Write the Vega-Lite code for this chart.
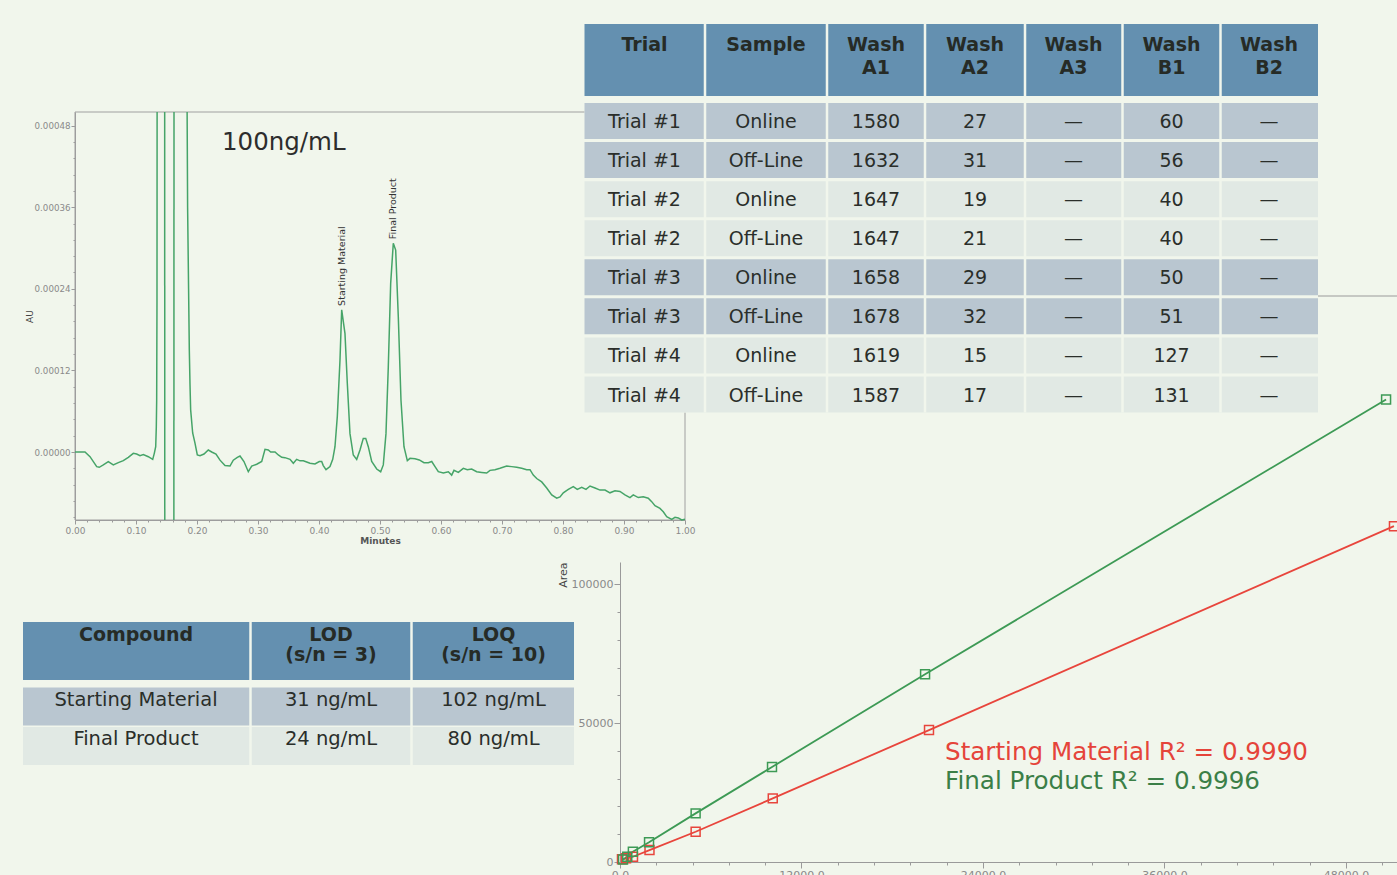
{
  "$schema": "https://vega.github.io/schema/vega-lite/v6.json",
  "width": 1397,
  "height": 875,
  "autosize": "none",
  "padding": 0,
  "background": "#f1f6ec",
  "config": {
    "view": {"stroke": null},
    "font": "DejaVu Sans",
    "axis": {"grid": false, "labelOverlap": false, "labelFlush": false, "labelBound": false, "domainColor": "#9a9a9a", "tickColor": "#9a9a9a", "labelColor": "#8a8a8a", "labelFont": "DejaVu Sans", "titleFont": "DejaVu Sans"}
  },
  "datasets": {
    "trace": [
      {"s":"a","t":0,"au":0},{"s":"a","t":0.0164,"au":0},{"s":"a","t":0.0246,"au":-0.0000069},{"s":"a","t":0.0356,"au":-0.0000215},{"s":"a","t":0.0398,"au":-0.0000225},{"s":"a","t":0.0464,"au":-0.000019},{"s":"a","t":0.0546,"au":-0.0000142},{"s":"a","t":0.0628,"au":-0.000019},{"s":"a","t":0.071,"au":-0.0000157},{"s":"a","t":0.0792,"au":-0.0000127},{"s":"a","t":0.0874,"au":-0.0000078},{"s":"a","t":0.0956,"au":-0.000002},{"s":"a","t":0.1011,"au":-0.0000029},{"s":"a","t":0.1066,"au":-0.0000054},{"s":"a","t":0.112,"au":-0.0000039},{"s":"a","t":0.1202,"au":-0.0000069},{"s":"a","t":0.1274,"au":-0.0000108},{"s":"a","t":0.13,"au":-0.000002},{"s":"a","t":0.1323,"au":0.0000078},{"s":"a","t":0.1333,"au":0.000037},{"s":"a","t":0.1339,"au":0.000076},{"s":"a","t":0.1344,"au":0.00022},{"s":"a","t":0.1346,"au":0.0005},
      {"s":"b","t":0.147,"au":0.0005},{"s":"b","t":0.1472,"au":-0.0001},
      {"s":"c","t":0.1621,"au":-0.0001},{"s":"c","t":0.1623,"au":0.0005},
      {"s":"d","t":0.1838,"au":0.0005},{"s":"d","t":0.1846,"au":0.00036},{"s":"d","t":0.1862,"au":0.00024},{"s":"d","t":0.1874,"au":0.00015},{"s":"d","t":0.1885,"au":0.0001},{"s":"d","t":0.1896,"au":0.000062},{"s":"d","t":0.1929,"au":0.000028},{"s":"d","t":0.1967,"au":0.000013},{"s":"d","t":0.2005,"au":-0.0000044},{"s":"d","t":0.2049,"au":-0.0000054},{"s":"d","t":0.2115,"au":-0.000003},{"s":"d","t":0.2185,"au":0.0000029},{"s":"d","t":0.2241,"au":0},{"s":"d","t":0.2311,"au":-0.000003},{"s":"d","t":0.2377,"au":-0.000012},{"s":"d","t":0.2459,"au":-0.00002},{"s":"d","t":0.2541,"au":-0.0000206},{"s":"d","t":0.2595,"au":-0.000012},{"s":"d","t":0.2661,"au":-0.0000078},{"s":"d","t":0.2705,"au":-0.0000059},{"s":"d","t":0.277,"au":-0.000014},{"s":"d","t":0.2841,"au":-0.000029},{"s":"d","t":0.2897,"au":-0.0000206},{"s":"d","t":0.2979,"au":-0.000018},{"s":"d","t":0.3061,"au":-0.000014},{"s":"d","t":0.3115,"au":0.0000039},{"s":"d","t":0.3169,"au":0.0000029},{"s":"d","t":0.3208,"au":0},{"s":"d","t":0.3279,"au":0},{"s":"d","t":0.3333,"au":-0.0000044},{"s":"d","t":0.3389,"au":-0.0000078},{"s":"d","t":0.3443,"au":-0.0000083},{"s":"d","t":0.3525,"au":-0.0000108},{"s":"d","t":0.3579,"au":-0.0000166},{"s":"d","t":0.3634,"au":-0.0000108},{"s":"d","t":0.3689,"au":-0.000013},{"s":"d","t":0.3743,"au":-0.000013},{"s":"d","t":0.3798,"au":-0.0000147},{"s":"d","t":0.3852,"au":-0.0000166},{"s":"d","t":0.3934,"au":-0.0000176},{"s":"d","t":0.4005,"au":-0.000014},{"s":"d","t":0.4044,"au":-0.000014},{"s":"d","t":0.407,"au":-0.00002},{"s":"d","t":0.4115,"au":-0.000026},{"s":"d","t":0.418,"au":-0.0000215},{"s":"d","t":0.4225,"au":-0.0000108},{"s":"d","t":0.4262,"au":0.0000078},{"s":"d","t":0.43,"au":0.000052},{"s":"d","t":0.4344,"au":0.000135},{"s":"d","t":0.4372,"au":0.000209},{"s":"d","t":0.4426,"au":0.000174},{"s":"d","t":0.4464,"au":0.000101},{"s":"d","t":0.4508,"au":0.000027},{"s":"d","t":0.4562,"au":-0.0000044},{"s":"d","t":0.4618,"au":-0.0000108},{"s":"d","t":0.4672,"au":0.0000029},{"s":"d","t":0.4726,"au":0.00002},{"s":"d","t":0.4766,"au":0.00002},{"s":"d","t":0.4808,"au":0.0000078},{"s":"d","t":0.4864,"au":-0.000014},{"s":"d","t":0.4946,"au":-0.000025},{"s":"d","t":0.5011,"au":-0.000029},{"s":"d","t":0.5054,"au":-0.000019},{"s":"d","t":0.5098,"au":0.000027},{"s":"d","t":0.5136,"au":0.000125},{"s":"d","t":0.5175,"au":0.000248},{"s":"d","t":0.5218,"au":0.000307},{"s":"d","t":0.5257,"au":0.000297},{"s":"d","t":0.53,"au":0.000199},{"s":"d","t":0.5344,"au":0.000076},{"s":"d","t":0.5393,"au":0.0000078},{"s":"d","t":0.5448,"au":-0.0000127},{"s":"d","t":0.5492,"au":-0.0000093},{"s":"d","t":0.5574,"au":-0.00001},{"s":"d","t":0.5644,"au":-0.0000117},{"s":"d","t":0.5721,"au":-0.0000157},{"s":"d","t":0.5792,"au":-0.0000157},{"s":"d","t":0.5848,"au":-0.000014},{"s":"d","t":0.5902,"au":-0.0000215},{"s":"d","t":0.5956,"au":-0.000029},{"s":"d","t":0.6038,"au":-0.000031},{"s":"d","t":0.612,"au":-0.000029},{"s":"d","t":0.6175,"au":-0.000034},{"s":"d","t":0.6213,"au":-0.000027},{"s":"d","t":0.6284,"au":-0.00003},{"s":"d","t":0.6366,"au":-0.000024},{"s":"d","t":0.6431,"au":-0.000026},{"s":"d","t":0.6503,"au":-0.000025},{"s":"d","t":0.6585,"au":-0.000029},{"s":"d","t":0.6667,"au":-0.00003},{"s":"d","t":0.6749,"au":-0.000031},{"s":"d","t":0.6803,"au":-0.000027},{"s":"d","t":0.6885,"au":-0.000026},{"s":"d","t":0.6967,"au":-0.000024},{"s":"d","t":0.7077,"au":-0.0000206},{"s":"d","t":0.7159,"au":-0.0000215},{"s":"d","t":0.7241,"au":-0.0000225},{"s":"d","t":0.7323,"au":-0.000024},{"s":"d","t":0.7405,"au":-0.000026},{"s":"d","t":0.7459,"au":-0.000026},{"s":"d","t":0.7513,"au":-0.000034},{"s":"d","t":0.7569,"au":-0.000039},{"s":"d","t":0.7651,"au":-0.000044},{"s":"d","t":0.7733,"au":-0.000053},{"s":"d","t":0.7815,"au":-0.000063},{"s":"d","t":0.7897,"au":-0.000068},{"s":"d","t":0.7951,"au":-0.000066},{"s":"d","t":0.8005,"au":-0.00006},{"s":"d","t":0.8087,"au":-0.000055},{"s":"d","t":0.8169,"au":-0.000051},{"s":"d","t":0.8234,"au":-0.000055},{"s":"d","t":0.8307,"au":-0.000052},{"s":"d","t":0.8377,"au":-0.000055},{"s":"d","t":0.8443,"au":-0.00005},{"s":"d","t":0.8525,"au":-0.000053},{"s":"d","t":0.8607,"au":-0.000056},{"s":"d","t":0.8689,"au":-0.000056},{"s":"d","t":0.877,"au":-0.00006},{"s":"d","t":0.8852,"au":-0.000057},{"s":"d","t":0.8934,"au":-0.000058},{"s":"d","t":0.9016,"au":-0.000063},{"s":"d","t":0.9098,"au":-0.000067},{"s":"d","t":0.9152,"au":-0.000063},{"s":"d","t":0.9234,"au":-0.000067},{"s":"d","t":0.9316,"au":-0.000066},{"s":"d","t":0.9398,"au":-0.000068},{"s":"d","t":0.9454,"au":-0.000073},{"s":"d","t":0.9508,"au":-0.000079},{"s":"d","t":0.959,"au":-0.000083},{"s":"d","t":0.9644,"au":-0.000088},{"s":"d","t":0.97,"au":-0.000095},{"s":"d","t":0.9782,"au":-0.000099},{"s":"d","t":0.9836,"au":-0.000096},{"s":"d","t":0.989,"au":-0.000097},{"s":"d","t":0.9946,"au":-0.0001},{"s":"d","t":1,"au":-0.000099}
    ],
    "peaks": [
      {"peak":"Starting Material","t":0.4372,"au":0.000209},
      {"peak":"Final Product","t":0.5218,"au":0.000307}
    ],
    "calib": [
      {"compound":"Starting Material","conc":130,"area":970},
      {"compound":"Starting Material","conc":400,"area":1330},
      {"compound":"Starting Material","conc":860,"area":1900},
      {"compound":"Starting Material","conc":1950,"area":4300},
      {"compound":"Starting Material","conc":5000,"area":10900},
      {"compound":"Starting Material","conc":10100,"area":22900},
      {"compound":"Starting Material","conc":20430,"area":47500},
      {"compound":"Starting Material","conc":51170,"area":120900},
      {"compound":"Final Product","conc":200,"area":900},
      {"compound":"Final Product","conc":480,"area":1900},
      {"compound":"Final Product","conc":850,"area":3700},
      {"compound":"Final Product","conc":1920,"area":7100},
      {"compound":"Final Product","conc":5000,"area":17500},
      {"compound":"Final Product","conc":10050,"area":34200},
      {"compound":"Final Product","conc":20170,"area":67600},
      {"compound":"Final Product","conc":50650,"area":166500}
    ],
    "bigRows": [
      {"r":0,"kind":"header"},{"r":1,"kind":"dark"},{"r":2,"kind":"dark"},{"r":3,"kind":"light"},{"r":4,"kind":"light"},{"r":5,"kind":"dark"},{"r":6,"kind":"dark"},{"r":7,"kind":"light"},{"r":8,"kind":"light"}
    ],
    "bigGaps": [{"b":0.5},{"b":1.5},{"b":2.5},{"b":3.5},{"b":4.5},{"b":5.5}],
    "bigCells": [
      {"r":0,"c":0,"t":"Trial"},{"r":0,"c":1,"t":"Sample"},{"r":0,"c":2,"t":"Wash\nA1"},{"r":0,"c":3,"t":"Wash\nA2"},{"r":0,"c":4,"t":"Wash\nA3"},{"r":0,"c":5,"t":"Wash\nB1"},{"r":0,"c":6,"t":"Wash\nB2"},
      {"r":1,"c":0,"t":"Trial #1"},{"r":1,"c":1,"t":"Online"},{"r":1,"c":2,"t":"1580"},{"r":1,"c":3,"t":"27"},{"r":1,"c":4,"t":"—"},{"r":1,"c":5,"t":"60"},{"r":1,"c":6,"t":"—"},
      {"r":2,"c":0,"t":"Trial #1"},{"r":2,"c":1,"t":"Off-Line"},{"r":2,"c":2,"t":"1632"},{"r":2,"c":3,"t":"31"},{"r":2,"c":4,"t":"—"},{"r":2,"c":5,"t":"56"},{"r":2,"c":6,"t":"—"},
      {"r":3,"c":0,"t":"Trial #2"},{"r":3,"c":1,"t":"Online"},{"r":3,"c":2,"t":"1647"},{"r":3,"c":3,"t":"19"},{"r":3,"c":4,"t":"—"},{"r":3,"c":5,"t":"40"},{"r":3,"c":6,"t":"—"},
      {"r":4,"c":0,"t":"Trial #2"},{"r":4,"c":1,"t":"Off-Line"},{"r":4,"c":2,"t":"1647"},{"r":4,"c":3,"t":"21"},{"r":4,"c":4,"t":"—"},{"r":4,"c":5,"t":"40"},{"r":4,"c":6,"t":"—"},
      {"r":5,"c":0,"t":"Trial #3"},{"r":5,"c":1,"t":"Online"},{"r":5,"c":2,"t":"1658"},{"r":5,"c":3,"t":"29"},{"r":5,"c":4,"t":"—"},{"r":5,"c":5,"t":"50"},{"r":5,"c":6,"t":"—"},
      {"r":6,"c":0,"t":"Trial #3"},{"r":6,"c":1,"t":"Off-Line"},{"r":6,"c":2,"t":"1678"},{"r":6,"c":3,"t":"32"},{"r":6,"c":4,"t":"—"},{"r":6,"c":5,"t":"51"},{"r":6,"c":6,"t":"—"},
      {"r":7,"c":0,"t":"Trial #4"},{"r":7,"c":1,"t":"Online"},{"r":7,"c":2,"t":"1619"},{"r":7,"c":3,"t":"15"},{"r":7,"c":4,"t":"—"},{"r":7,"c":5,"t":"127"},{"r":7,"c":6,"t":"—"},
      {"r":8,"c":0,"t":"Trial #4"},{"r":8,"c":1,"t":"Off-Line"},{"r":8,"c":2,"t":"1587"},{"r":8,"c":3,"t":"17"},{"r":8,"c":4,"t":"—"},{"r":8,"c":5,"t":"131"},{"r":8,"c":6,"t":"—"}
    ],
    "smallRows": [{"r":0,"kind":"header"},{"r":1,"kind":"dark"},{"r":2,"kind":"light"}],
    "smallGaps": [{"b":0.5},{"b":1.5}],
    "smallCells": [
      {"r":0,"c":0,"t":"Compound"},{"r":0,"c":1,"t":"LOD\n(s/n = 3)"},{"r":0,"c":2,"t":"LOQ\n(s/n = 10)"},
      {"r":1,"c":0,"t":"Starting Material"},{"r":1,"c":1,"t":"31 ng/mL"},{"r":1,"c":2,"t":"102 ng/mL"},
      {"r":2,"c":0,"t":"Final Product"},{"r":2,"c":1,"t":"24 ng/mL"},{"r":2,"c":2,"t":"80 ng/mL"}
    ]
  },
  "layer": [
    {
      "data": {"values": [{}]},
      "mark": {"type": "rule", "color": "#9a9a9a", "strokeWidth": 1},
      "encoding": {
        "x": {"datum": 46150,
          "scale": {"domain": [0, 51372], "range": [620, 1397], "nice": false, "zero": false},
          "axis": {"orient": "bottom", "offset": -13, "title": null, "labels": false, "domain": false, "tickSize": 3,
            "values": [2400,4800,7200,9600,14400,16800,19200,21600,26400,28800,31200,33600,38400,40800,43200,45600,50400]}},
        "x2": {"datum": 52500},
        "y": {"datum": 203760,
          "scale": {"domain": [0, 108000], "range": [862, 562], "nice": false, "zero": false},
          "axis": {"orient": "left", "offset": -620, "title": null, "labels": false, "domain": false, "tickSize": 3,
            "values": [10000,20000,30000,40000,60000,70000,80000,90000]}}
      }
    },
    {
      "data": {"name": "calib"},
      "mark": {"type": "line", "strokeWidth": 1.8},
      "encoding": {
        "x": {"field": "conc", "type": "quantitative",
          "scale": {"domain": [0, 51372], "range": [620, 1397], "nice": false, "zero": false},
          "axis": {"orient": "bottom", "offset": -13, "title": null, "labelFontSize": 11, "labelPadding": 1, "tickSize": 6,
            "values": [0,12000,24000,36000,48000], "format": ".1f"}},
        "y": {"field": "area", "type": "quantitative",
          "scale": {"domain": [0, 108000], "range": [862, 562], "nice": false, "zero": false},
          "axis": {"orient": "left", "offset": -620, "title": "Area", "titleAnchor": "end", "titleFontSize": 11, "titleFontWeight": "normal", "titleColor": "#444444", "titlePadding": 3, "labelFontSize": 11, "labelPadding": 1, "tickSize": 6,
            "values": [0,50000,100000], "format": "d"}},
        "color": {"field": "compound", "type": "nominal", "scale": {"domain": ["Starting Material", "Final Product"], "range": ["#e8453c", "#3d9a55"]}, "legend": null}
      }
    },
    {
      "data": {"name": "calib"},
      "mark": {"type": "point", "shape": "square", "filled": false, "size": 80, "strokeWidth": 1.5, "opacity": 1},
      "encoding": {
        "x": {"field": "conc", "type": "quantitative", "axis": null,
          "scale": {"domain": [0, 51372], "range": [620, 1397], "nice": false, "zero": false}},
        "y": {"field": "area", "type": "quantitative", "axis": null,
          "scale": {"domain": [0, 108000], "range": [862, 562], "nice": false, "zero": false}},
        "color": {"field": "compound", "type": "nominal", "scale": {"domain": ["Starting Material", "Final Product"], "range": ["#e8453c", "#3d9a55"]}, "legend": null}
      }
    },
    {
      "data": {"values": [{}]},
      "mark": {"type": "text", "align": "left", "baseline": "alphabetic", "fontSize": 24.6, "color": "#e5443a"},
      "encoding": {
        "x": {"datum": 21490, "axis": null,
          "scale": {"domain": [0, 51372], "range": [620, 1397], "nice": false, "zero": false}},
        "y": {"datum": 36720, "axis": null,
          "scale": {"domain": [0, 108000], "range": [862, 562], "nice": false, "zero": false}},
        "text": {"value": "Starting Material R² = 0.9990"}
      }
    },
    {
      "data": {"values": [{}]},
      "mark": {"type": "text", "align": "left", "baseline": "alphabetic", "fontSize": 24.6, "color": "#3b7f47"},
      "encoding": {
        "x": {"datum": 21490, "axis": null,
          "scale": {"domain": [0, 51372], "range": [620, 1397], "nice": false, "zero": false}},
        "y": {"datum": 26280, "axis": null,
          "scale": {"domain": [0, 108000], "range": [862, 562], "nice": false, "zero": false}},
        "text": {"value": "Final Product R² = 0.9996"}
      }
    },
    {
      "data": {"values": [{}]},
      "mark": {"type": "rect", "filled": false, "color": "#a0a0a0", "strokeWidth": 1},
      "encoding": {
        "x": {"datum": 0,
          "scale": {"domain": [0, 1], "range": [75, 685], "nice": false, "zero": false},
          "axis": {"orient": "bottom", "offset": -355, "title": null, "labels": false, "domain": false, "tickSize": 2,
            "values": [0.02,0.04,0.06,0.08,0.12,0.14,0.16,0.18,0.22,0.24,0.26,0.28,0.32,0.34,0.36,0.38,0.42,0.44,0.46,0.48,0.52,0.54,0.56,0.58,0.62,0.64,0.66,0.68,0.72,0.74,0.76,0.78,0.82,0.84,0.86,0.88,0.92,0.94,0.96,0.98]}},
        "x2": {"datum": 1},
        "y": {"datum": -0.0001,
          "scale": {"domain": [-0.0001, 0.0005], "range": [520, 112], "nice": false, "zero": false},
          "axis": {"orient": "left", "offset": -75, "title": null, "labels": false, "domain": false, "tickSize": 2,
            "values": [-0.000096,-0.000072,-0.000048,-0.000024,0.000024,0.000048,0.000072,0.000096,0.000144,0.000168,0.000192,0.000216,0.000264,0.000288,0.000312,0.000336,0.000384,0.000408,0.000432,0.000456]}},
        "y2": {"datum": 0.0005}
      }
    },
    {
      "data": {"name": "trace"},
      "mark": {"type": "line", "color": "#46a468", "strokeWidth": 1.5},
      "encoding": {
        "x": {"field": "t", "type": "quantitative",
          "scale": {"domain": [0, 1], "range": [75, 685], "nice": false, "zero": false},
          "axis": {"orient": "bottom", "offset": -355, "title": "Minutes", "titleFontSize": 9, "titleFontWeight": "bold", "titleColor": "#555555", "titlePadding": 1, "labelFontSize": 9, "labelPadding": 2, "tickSize": 4,
            "values": [0,0.1,0.2,0.3,0.4,0.5,0.6,0.7,0.8,0.9,1], "format": ".2f"}},
        "y": {"field": "au", "type": "quantitative",
          "scale": {"domain": [-0.0001, 0.0005], "range": [520, 112], "nice": false, "zero": false},
          "axis": {"orient": "left", "offset": -75, "title": "AU", "titleFontSize": 9, "titleFontWeight": "normal", "titleColor": "#444444", "titlePadding": 0, "labelFontSize": 8.7, "labelPadding": 1, "tickSize": 4,
            "values": [0,0.00012,0.00024,0.00036,0.00048], "format": ".5f"}},
        "detail": {"field": "s", "type": "nominal"}
      }
    },
    {
      "data": {"name": "peaks"},
      "mark": {"type": "text", "angle": 270, "align": "left", "baseline": "middle", "dx": 4, "fontSize": 9.5, "color": "#333333"},
      "encoding": {
        "x": {"field": "t", "type": "quantitative", "axis": null,
          "scale": {"domain": [0, 1], "range": [75, 685], "nice": false, "zero": false}},
        "y": {"field": "au", "type": "quantitative", "axis": null,
          "scale": {"domain": [-0.0001, 0.0005], "range": [520, 112], "nice": false, "zero": false}},
        "text": {"field": "peak", "type": "nominal"}
      }
    },
    {
      "data": {"values": [{}]},
      "mark": {"type": "text", "align": "left", "baseline": "alphabetic", "fontSize": 24.5, "color": "#2d2d2d"},
      "encoding": {
        "x": {"datum": 0.241, "axis": null,
          "scale": {"domain": [0, 1], "range": [75, 685], "nice": false, "zero": false}},
        "y": {"datum": 0.0004436, "axis": null,
          "scale": {"domain": [-0.0001, 0.0005], "range": [520, 112], "nice": false, "zero": false}},
        "text": {"value": "100ng/mL"}
      }
    },
    {
      "layer": [
        {
          "data": {"values": [{}]},
          "mark": {"type": "rect", "color": "#f1f6ec"},
          "encoding": {
            "x": {"datum": -0.5, "axis": null,
              "scale": {"domain": [-0.5, 0, 0.5, 1, 1.5, 2, 2.5, 3, 3.5, 4, 4.5, 5, 5.5, 6, 6.5], "range": [584.5, 644.5, 705, 766, 827, 876, 925, 975, 1025, 1073.5, 1122.5, 1171.5, 1220.5, 1269, 1318], "nice": false, "zero": false}},
            "x2": {"datum": 6.5},
            "y": {"datum": -0.5, "axis": null,
              "scale": {"domain": [-0.5, 0, 1, 8, 8.5], "range": [24, 60, 121, 394.5, 412.5], "nice": false, "zero": false}},
            "y2": {"datum": 8.5}
          }
        },
        {
          "data": {"name": "bigRows"},
          "transform": [{"filter": "datum.kind === 'header'"}],
          "mark": {"type": "rule", "strokeWidth": 72, "color": "#6490b0"},
          "encoding": {
            "x": {"datum": -0.5, "axis": null},
            "x2": {"datum": 6.5},
            "y": {"field": "r", "type": "quantitative", "axis": null}
          }
        },
        {
          "data": {"name": "bigRows"},
          "transform": [{"filter": "datum.kind !== 'header'"}],
          "mark": {"type": "rule", "strokeWidth": 36},
          "encoding": {
            "x": {"datum": -0.5, "axis": null},
            "x2": {"datum": 6.5},
            "y": {"field": "r", "type": "quantitative", "axis": null},
            "color": {"field": "kind", "type": "nominal", "scale": {"domain": ["dark", "light"], "range": ["#b9c6d0", "#e1e9e4"]}, "legend": null}
          }
        },
        {
          "data": {"name": "bigGaps"},
          "mark": {"type": "rule", "strokeWidth": 2.5, "color": "#f1f6ec"},
          "encoding": {
            "x": {"field": "b", "type": "quantitative", "axis": null},
            "y": {"datum": -0.5, "axis": null},
            "y2": {"datum": 8.5}
          }
        },
        {
          "data": {"name": "bigCells"},
          "transform": [{"filter": "datum.r === 0"}],
          "mark": {"type": "text", "align": "center", "baseline": "alphabetic", "dy": -9.5, "lineBreak": "\n", "lineHeight": 23, "fontSize": 19, "fontWeight": "bold", "color": "#262b26"},
          "encoding": {
            "x": {"field": "c", "type": "quantitative", "axis": null},
            "y": {"field": "r", "type": "quantitative", "axis": null},
            "text": {"field": "t", "type": "nominal"}
          }
        },
        {
          "data": {"name": "bigCells"},
          "transform": [{"filter": "datum.r > 0"}],
          "mark": {"type": "text", "align": "center", "baseline": "alphabetic", "dy": 7, "fontSize": 19, "color": "#2a2e2a"},
          "encoding": {
            "x": {"field": "c", "type": "quantitative", "axis": null},
            "y": {"field": "r", "type": "quantitative", "axis": null},
            "text": {"field": "t", "type": "nominal"}
          }
        }
      ]
    },
    {
      "layer": [
        {
          "data": {"name": "smallRows"},
          "transform": [{"filter": "datum.kind === 'header'"}],
          "mark": {"type": "rule", "strokeWidth": 58, "color": "#6490b0"},
          "encoding": {
            "x": {"datum": -0.5, "axis": null,
              "scale": {"domain": [-0.5, 0, 0.5, 1, 1.5, 2, 2.5], "range": [23, 136, 250.5, 331, 411.5, 493.5, 574], "nice": false, "zero": false}},
            "x2": {"datum": 2.5},
            "y": {"field": "r", "type": "quantitative", "axis": null,
              "scale": {"domain": [-0.5, 0, 1, 2, 2.5], "range": [622, 651, 706.5, 746, 765], "nice": false, "zero": false}}
          }
        },
        {
          "data": {"name": "smallRows"},
          "transform": [{"filter": "datum.kind !== 'header'"}],
          "mark": {"type": "rule", "strokeWidth": 38},
          "encoding": {
            "x": {"datum": -0.5, "axis": null},
            "x2": {"datum": 2.5},
            "y": {"field": "r", "type": "quantitative", "axis": null},
            "color": {"field": "kind", "type": "nominal", "scale": {"domain": ["dark", "light"], "range": ["#b9c6d0", "#e1e9e4"]}, "legend": null}
          }
        },
        {
          "data": {"name": "smallGaps"},
          "mark": {"type": "rule", "strokeWidth": 2.5, "color": "#f1f6ec"},
          "encoding": {
            "x": {"field": "b", "type": "quantitative", "axis": null},
            "y": {"datum": -0.5, "axis": null},
            "y2": {"datum": 2.5}
          }
        },
        {
          "data": {"name": "smallCells"},
          "transform": [{"filter": "datum.r === 0"}],
          "mark": {"type": "text", "align": "center", "baseline": "alphabetic", "dy": -10, "lineBreak": "\n", "lineHeight": 20, "fontSize": 19, "fontWeight": "bold", "color": "#262b26"},
          "encoding": {
            "x": {"field": "c", "type": "quantitative", "axis": null},
            "y": {"field": "r", "type": "quantitative", "axis": null},
            "text": {"field": "t", "type": "nominal"}
          }
        },
        {
          "data": {"name": "smallCells"},
          "transform": [{"filter": "datum.r > 0"}],
          "mark": {"type": "text", "align": "center", "baseline": "alphabetic", "dy": -1, "fontSize": 19.5, "color": "#2a2e2a"},
          "encoding": {
            "x": {"field": "c", "type": "quantitative", "axis": null},
            "y": {"field": "r", "type": "quantitative", "axis": null},
            "text": {"field": "t", "type": "nominal"}
          }
        }
      ]
    }
  ],
  "resolve": {
    "scale": {"x": "independent", "y": "independent", "color": "independent"},
    "axis": {"x": "independent", "y": "independent"}
  }
}
